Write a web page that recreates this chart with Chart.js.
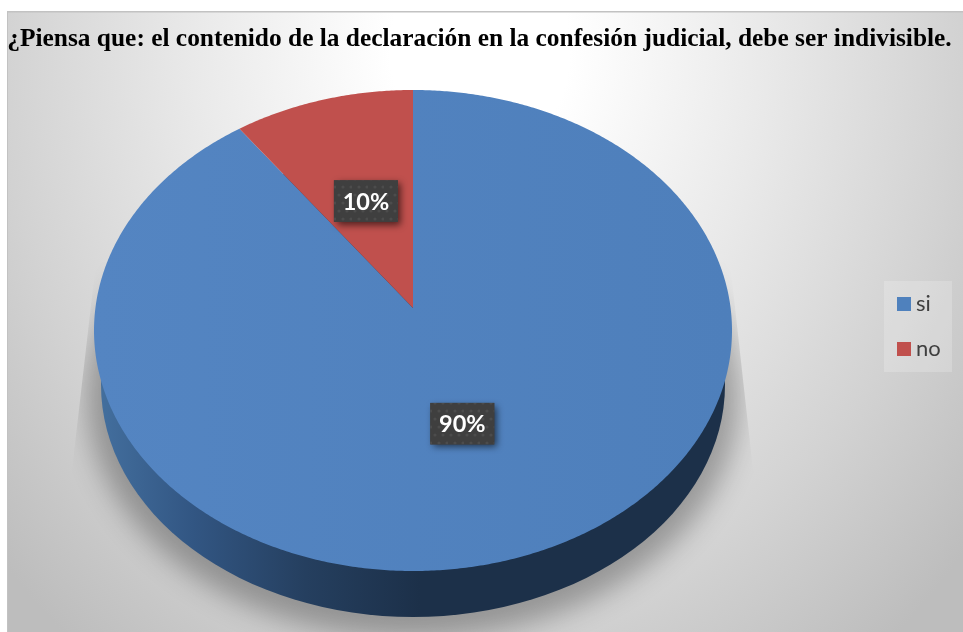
<!DOCTYPE html>
<html lang="es">
<head>
<meta charset="utf-8">
<title>Confesión judicial</title>
<script src="https://cdn.jsdelivr.net/npm/chart.js@4"></script>
<style>
  html, body { margin: 0; padding: 0; background: #fff; }
  canvas { display: block; }
</style>
</head>
<body>
<canvas id="pie-chart" width="963" height="632"></canvas>
<script>
const TITLE = '¿Piensa que: el contenido de la declaración en la confesión judicial, debe ser indivisible.';
const CATEGORIES = ['si', 'no'];
const VALUES = [90, 10];
const COLORS = ['#4f81bd', '#c0504d'];

// Perspective of the tilted disc: unit circle -> screen
const CX = 413, APEX_Y = 308, RADIUS = 317.6, PERSP = -0.09356, TILT = 209.58;

function project(u, v) {
  const d = 1 + PERSP * v;
  return { x: CX + RADIUS * u / d, y: (APEX_Y + TILT * v) / d };
}

function traceSlice(ctx, start, end) {
  const steps = Math.max(2, Math.ceil((end - start) * 120));
  const apex = project(0, 0);
  ctx.beginPath();
  ctx.moveTo(apex.x, apex.y);
  for (let i = 0; i <= steps; i++) {
    const a = start + (end - start) * i / steps;
    const p = project(Math.cos(a), Math.sin(a));
    ctx.lineTo(p.x, p.y);
  }
  ctx.closePath();
}

/* -------------------------------------------------------
   Panel background
------------------------------------------------------- */
function drawPanel(ctx, w, h) {
  ctx.save();
  ctx.beginPath();
  ctx.rect(7, 11, w - 7, h - 11);
  ctx.clip();
  ctx.translate(480, 50);
  ctx.scale(1, 1.2);
  const g = ctx.createRadialGradient(0, 0, 0, 0, 0, 640);
  g.addColorStop(0, '#ffffff');
  g.addColorStop(0.14, '#ffffff');
  g.addColorStop(0.45, '#e9e9e9');
  g.addColorStop(0.75, '#d2d2d2');
  g.addColorStop(1, '#bdbdbd');
  ctx.fillStyle = g;
  ctx.fillRect(-600, -100, 1200, 800);
  ctx.restore();

  ctx.fillStyle = '#c2c2c2';
  ctx.fillRect(7, 11, w - 7, 1.5);
  ctx.fillRect(7, 11, 1, h - 11);
}

/* -------------------------------------------------------
   Floor shadow + side wall of the disc
------------------------------------------------------- */
function drawBody(ctx) {
  // shadow, cut by the two wedge lines at the sides
  ctx.save();
  ctx.beginPath();
  ctx.moveTo(96, 262);
  ctx.lineTo(72, 470);
  ctx.lineTo(0, 520);
  ctx.lineTo(0, 632);
  ctx.lineTo(963, 632);
  ctx.lineTo(963, 520);
  ctx.lineTo(753, 470);
  ctx.lineTo(730, 262);
  ctx.closePath();
  ctx.clip();
  ctx.shadowColor = 'rgba(0,0,0,0.3)';
  ctx.shadowBlur = 28;
  ctx.shadowOffsetX = 2000;
  ctx.fillStyle = '#000';
  ctx.beginPath();
  ctx.ellipse(CX - 2000, 395, 326, 243, 0, 0, Math.PI * 2);
  ctx.fill();
  ctx.restore();

  // wall
  const wall = ctx.createLinearGradient(95, 0, 420, 0);
  wall.addColorStop(0, '#44709f');
  wall.addColorStop(0.3, '#325683');
  wall.addColorStop(0.65, '#253f5f');
  wall.addColorStop(1, '#1c3049');
  ctx.fillStyle = wall;
  ctx.beginPath();
  ctx.ellipse(CX, 385, 312, 232, 0, 0, Math.PI * 2);
  ctx.fill();
}

/* -------------------------------------------------------
   Label box pattern
------------------------------------------------------- */
function labelPattern(ctx) {
  const c = document.createElement('canvas');
  c.width = 16; c.height = 16;
  const p = c.getContext('2d');
  p.fillStyle = '#3f3f3f';
  p.fillRect(0, 0, 16, 16);
  p.fillStyle = '#4c4c4c';
  [[3, 3], [11, 3], [7, 11], [15, 11]].forEach(d => {
    p.beginPath();
    p.arc(d[0], d[1], 1.6, 0, Math.PI * 2);
    p.fill();
  });
  return ctx.createPattern(c, 'repeat');
}

function drawLabel(ctx, text, p) {
  const bw = 64, bh = 41.5;
  ctx.save();
  ctx.shadowColor = 'rgba(0,0,0,0.6)';
  ctx.shadowBlur = 7;
  ctx.shadowOffsetX = 3;
  ctx.shadowOffsetY = 3;
  ctx.fillStyle = '#3f3f3f';
  ctx.fillRect(p.x - bw / 2, p.y - bh / 2, bw, bh);
  ctx.restore();

  ctx.fillStyle = labelPattern(ctx);
  ctx.fillRect(p.x - bw / 2, p.y - bh / 2, bw, bh);
  ctx.fillStyle = '#ffffff';
  ctx.font = 'bold 23.5px Lato';
  ctx.textAlign = 'center';
  ctx.textBaseline = 'middle';
  ctx.fillText(text, p.x, p.y + 1);
}

/* -------------------------------------------------------
   Legend
------------------------------------------------------- */
function drawLegend(ctx) {
  ctx.fillStyle = 'rgba(255,255,255,0.2)';
  ctx.fillRect(884, 281, 68, 91);
  ctx.font = '22px Lato';
  ctx.textAlign = 'left';
  ctx.textBaseline = 'middle';
  CATEGORIES.forEach((name, i) => {
    const y = 304 + i * 45;
    ctx.fillStyle = COLORS[i];
    ctx.fillRect(897, y - 7, 14, 14);
    ctx.fillStyle = '#404040';
    ctx.fillText(name, 916, y);
  });
}

const tiltedPie = {
  id: 'tiltedPie',
  beforeDraw(chart) {
    drawPanel(chart.ctx, chart.width, chart.height);
  },
  // The arcs keep the angles the doughnut controller worked out, only the shape is projected
  beforeDatasetsDraw(chart) {
    const ctx = chart.ctx;
    const arcs = chart.getDatasetMeta(0).data;
    drawBody(ctx);

    arcs.forEach((arc, i) => {
      let fill = COLORS[i];
      if (i === 0) {
        fill = ctx.createLinearGradient(94, 0, 732, 0);
        fill.addColorStop(0, '#5485c2');
        fill.addColorStop(1, '#4e7fbb');
      }
      ctx.fillStyle = fill;
      traceSlice(ctx, arc.startAngle, arc.endAngle);
      ctx.fill();
    });

    const total = VALUES.reduce((a, b) => a + b, 0);
    arcs.forEach((arc, i) => {
      const mid = (arc.startAngle + arc.endAngle) / 2;
      const p = project(Math.cos(mid) * 0.49, Math.sin(mid) * 0.49);
      p.x -= 1;
      p.y -= 0.5;
      drawLabel(ctx, Math.round(VALUES[i] / total * 100) + '%', p);
    });

    drawLegend(ctx);
    return false;
  }
};

new Chart(document.getElementById('pie-chart').getContext('2d'), {
  type: 'pie',
  data: {
    labels: CATEGORIES,
    datasets: [{ data: VALUES, backgroundColor: COLORS, borderWidth: 0 }]
  },
  options: {
    responsive: false,
    animation: false,
    layout: { padding: { right: 4 } },
    plugins: {
      legend: { display: false },
      tooltip: { enabled: false },
      title: {
        display: true,
        text: TITLE,
        color: '#000000',
        font: { family: 'Liberation Serif', size: 25.4, weight: 'bold' },
        padding: { top: 24, bottom: 10 }
      }
    }
  },
  plugins: [tiltedPie]
});
</script>
</body>
</html>
